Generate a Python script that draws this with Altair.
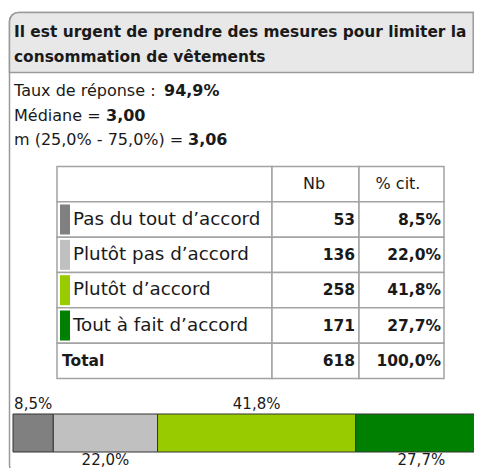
import altair as alt
import pandas as pd

# ---------------- data ----------------
title_lines = ["Il est urgent de prendre des mesures pour limiter la",
               "consommation de vêtements"]
stat_labels = ["Taux de réponse : ", "Médiane = ", "m (25,0% - 75,0%) = "]
stat_values = ["94,9%", "3,00", "3,06"]
categories = ["Pas du tout d’accord", "Plutôt pas d’accord",
              "Plutôt d’accord", "Tout à fait d’accord"]
counts = [53, 136, 258, 171]
percents = [8.5, 22.0, 41.8, 27.7]
total_label = "Total"
total_count = 618
total_percent = 100.0
col_headers = ["Nb", "% cit."]

# ---------------- styles / layout ----------------
colors = ["#808080", "#c0c0c0", "#99cc00", "#008000"]
FONT = "DejaVu Sans"
INK = "#1a1a1a"
GRID = "#a3a3a3"
BORDER = "#9a9a9a"
W, H = 466, 460          # whole page = 482 x 476 with the 8px body margin

TABLE_TOP, TABLE_BOTTOM = 158.5, 370.5
COL_EDGES = [49, 264, 351, 436]
STAT_VALUE_X = [156, 98, 180]


def fr(v):
    return f"{v:.1f}".replace(".", ",") + "%"


rows = ["header"] + categories + ["total"]
step = (TABLE_BOTTOM - TABLE_TOP) / len(rows)

row_band = alt.Scale(type="band", domain=rows, range=[TABLE_TOP, TABLE_BOTTOM],
                     paddingInner=0, paddingOuter=0)
row_point = alt.Scale(type="point", domain=rows, range=[TABLE_TOP, TABLE_BOTTOM],
                      padding=0.5)
swatch_scale = alt.Scale(type="band", domain=categories,
                         range=[TABLE_TOP + step, TABLE_TOP + 5 * step],
                         paddingInner=0.15, paddingOuter=0.075)
color_scale = alt.Scale(domain=categories, range=colors)

one = pd.DataFrame({"k": [0]})

# ---------------- frame ----------------
outer = alt.Chart(one).mark_rect(
    fill="white", fillOpacity=0, stroke=BORDER, strokeWidth=1.5, cornerRadius=9
).encode(x=alt.value(1.5), x2=alt.value(W + 40), y=alt.value(4.5), y2=alt.value(H + 6))

title_box = alt.Chart(one).mark_rect(
    fill="#e8e8e8", stroke=BORDER, strokeWidth=1.5, cornerRadiusTopLeft=9
).encode(x=alt.value(1.5), x2=alt.value(W - 0.8), y=alt.value(4.5), y2=alt.value(64.5))

# ---------------- title ----------------
title_df = pd.DataFrame({"line": title_lines, "i": list(range(len(title_lines)))})
title_text = alt.Chart(title_df).mark_text(
    font=FONT, fontSize=15.4, fontWeight="bold", align="left",
    baseline="alphabetic", color=INK
).encode(
    x=alt.value(6),
    y=alt.Y("i:O", scale=alt.Scale(type="point", domain=[0, 1], range=[29, 54], padding=0),
            axis=None),
    text="line:N",
)

# ---------------- stats ----------------
stats_df = pd.DataFrame({"label": stat_labels, "value": stat_values,
                         "i": list(range(len(stat_labels)))})
stat_y = alt.Y("i:O", scale=alt.Scale(type="point", domain=[0, 1, 2], range=[88, 137],
                                      padding=0),
               axis=None)
stats_text = alt.Chart(stats_df).mark_text(
    font=FONT, fontSize=16, align="left", baseline="alphabetic", color=INK
).encode(x=alt.value(6), y=stat_y, text="label:N")

stats_bold = [
    alt.Chart(stats_df).transform_filter(f"datum.i == {i}").mark_text(
        font=FONT, fontSize=16, fontWeight="bold", align="left",
        baseline="alphabetic", color=INK
    ).encode(x=alt.value(STAT_VALUE_X[i]), y=stat_y, text="value:N")
    for i in range(len(stat_labels))
]

# ---------------- table ----------------
rows_df = pd.DataFrame({"row": rows})
cells = [
    alt.Chart(rows_df).mark_rect(fill="white", stroke=GRID, strokeWidth=1.5).encode(
        x=alt.value(COL_EDGES[c]), x2=alt.value(COL_EDGES[c + 1]),
        y=alt.Y("row:N", scale=row_band, axis=None),
    )
    for c in range(3)
]

cat_df = pd.DataFrame({"row": categories, "cat": categories, "n": counts,
                       "pct": [fr(p) for p in percents]})
tot_df = pd.DataFrame({"row": ["total"], "label": [total_label], "n": [total_count],
                       "pct": [fr(total_percent)]})
head_df = pd.DataFrame({"row": ["header", "header"], "h": col_headers})

swatches = alt.Chart(cat_df).mark_rect().encode(
    x=alt.value(52), x2=alt.value(62),
    y=alt.Y("cat:N", scale=swatch_scale, axis=None),
    color=alt.Color("cat:N", scale=color_scale, legend=None),
)

labels = alt.Chart(cat_df).mark_text(
    font=FONT, fontSize=18.3, align="left", baseline="middle", color=INK
).encode(x=alt.value(65), y=alt.Y("row:N", scale=row_point, axis=None), text="cat:N")

total_text = alt.Chart(tot_df).mark_text(
    font=FONT, fontSize=15.5, fontWeight="bold", align="left", baseline="middle", color=INK
).encode(x=alt.value(54), y=alt.Y("row:N", scale=row_point, axis=None), text="label:N")

num_df = pd.concat([cat_df[["row", "n", "pct"]], tot_df[["row", "n", "pct"]]])
nb_text = alt.Chart(num_df).mark_text(
    font=FONT, fontSize=15.5, fontWeight="bold", align="right", baseline="middle", color=INK
).encode(x=alt.value(347), y=alt.Y("row:N", scale=row_point, axis=None), text="n:Q")
pct_text = alt.Chart(num_df).mark_text(
    font=FONT, fontSize=15.5, fontWeight="bold", align="right", baseline="middle", color=INK
).encode(x=alt.value(433), y=alt.Y("row:N", scale=row_point, axis=None), text="pct:N")

head_nb = alt.Chart(head_df).transform_filter(f"datum.h == '{col_headers[0]}'").mark_text(
    font=FONT, fontSize=16, align="center", baseline="middle", color=INK
).encode(x=alt.value(306), y=alt.Y("row:N", scale=row_point, axis=None), text="h:N")
head_pct = alt.Chart(head_df).transform_filter(f"datum.h == '{col_headers[1]}'").mark_text(
    font=FONT, fontSize=16, align="center", baseline="middle", color=INK
).encode(x=alt.value(390), y=alt.Y("row:N", scale=row_point, axis=None), text="h:N")

# ---------------- stacked bar ----------------
bar_df = pd.DataFrame({"cat": categories, "pct": percents, "k": list(range(len(categories))),
                       "label": [fr(p) for p in percents]})
xbar = alt.Scale(domain=[0, 100], range=[5, 479])
bar_base = alt.Chart(bar_df).transform_window(
    end="sum(pct)", sort=[alt.SortField("k")]
).transform_calculate(
    start="datum.end - datum.pct",
    mid="datum.end - datum.pct / 2",
    side="datum.k % 2",
)
bar = bar_base.mark_rect(stroke="#333333", strokeWidth=1, clip=True).encode(
    x=alt.X("start:Q", scale=xbar, axis=None), x2="end:Q",
    y=alt.value(406), y2=alt.value(444),
    color=alt.Color("cat:N", scale=color_scale, legend=None),
)
bar_labels = bar_base.mark_text(
    font=FONT, fontSize=15, align="center", baseline="alphabetic", color=INK
).encode(
    x=alt.X("mid:Q", scale=xbar, axis=None),
    y=alt.Y("side:O", scale=alt.Scale(type="point", domain=[0, 1], range=[400.5, 457],
                                      padding=0), axis=None),
    text="label:N",
)

layers = [outer, title_box, title_text, stats_text, *stats_bold, *cells, swatches,
          labels, total_text, nb_text, pct_text, head_nb, head_pct, bar, bar_labels]

chart = alt.layer(*layers).resolve_scale(
    x="independent", y="independent", color="independent"
).properties(width=W, height=H, padding=0, autosize="none").configure_view(strokeWidth=0)

chart.save("out.html", embed_options={"renderer": "svg", "actions": False})
